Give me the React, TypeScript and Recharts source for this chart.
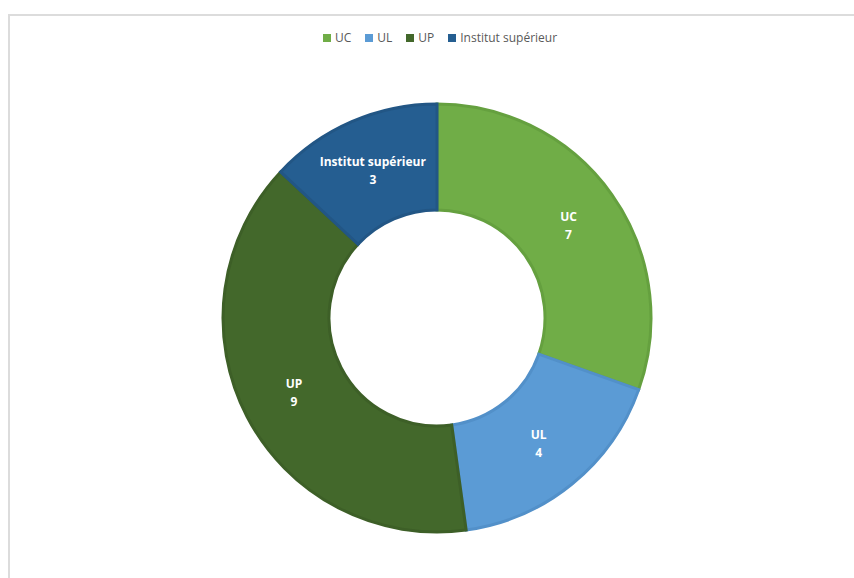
import React from "react";
import { PieChart, Pie, Cell } from "recharts";

const categories = ["UC", "UL", "UP", "Institut supérieur"];
const values = [7, 4, 9, 3];
const fills = ["#70ad47", "#5b9bd5", "#43682b", "#255e91"];
const strokes = ["#65a03f", "#5290c9", "#3d5f27", "#225685"];

const data = categories.map((name, i) => ({ name, value: values[i] }));

const RAD = Math.PI / 180;

const renderLabel = (props: any) => {
  const { cx, cy, midAngle, innerRadius, outerRadius, name, value } = props;
  const r = (innerRadius + outerRadius) / 2;
  const x = cx + r * Math.cos(-midAngle * RAD);
  const y = cy + r * Math.sin(-midAngle * RAD);
  return (
    <text
      x={x}
      y={y}
      fill="#ffffff"
      textAnchor="middle"
      fontFamily="'Open Sans', sans-serif"
      fontWeight={700}
      fontSize={12}
    >
      <tspan x={x} dy={-4}>{name}</tspan>
      <tspan x={x} dy={18}>{value}</tspan>
    </text>
  );
};

const LegendBox = () => (
  <div
    style={{
      position: "absolute",
      top: 29,
      left: 0,
      width: 880,
      display: "flex",
      justifyContent: "center",
      alignItems: "center",
      fontFamily: "'Open Sans', sans-serif",
      fontSize: 12,
      lineHeight: "18px",
      color: "#595959",
      gap: 14,
    }}
  >
    {categories.map((c, i) => (
      <div key={c} style={{ display: "flex", alignItems: "center" }}>
        <span
          style={{
            display: "inline-block",
            width: 8,
            height: 8,
            background: fills[i],
            marginRight: 4,
          }}
        />
        <span>{c}</span>
      </div>
    ))}
  </div>
);

export default function App() {
  return (
    <div style={{ position: "absolute", left: 0, top: 0, width: 854, height: 578, background: "#fff", overflow: "hidden" }}>
      <div
        style={{
          position: "absolute",
          left: 8,
          top: 14,
          width: 860,
          height: 580,
          borderTop: "2px solid #dcdcdc",
          borderLeft: "2px solid #dcdcdc",
        }}
      />
      <LegendBox />
      <div style={{ position: "absolute", left: 0, top: 0 }}>
        <PieChart width={854} height={578} margin={{ top: 0, right: 0, bottom: 0, left: 0 }}>
          <Pie
            data={data}
            dataKey="value"
            nameKey="name"
            cx={437}
            cy={318}
            innerRadius={108}
            outerRadius={214}
            startAngle={90}
            endAngle={-270}
            label={renderLabel}
            labelLine={false}
            isAnimationActive={false}
          >
            {data.map((d, i) => (
              <Cell key={d.name} fill={fills[i]} stroke={strokes[i]} strokeWidth={3} />
            ))}
          </Pie>
        </PieChart>
      </div>
    </div>
  );
}
